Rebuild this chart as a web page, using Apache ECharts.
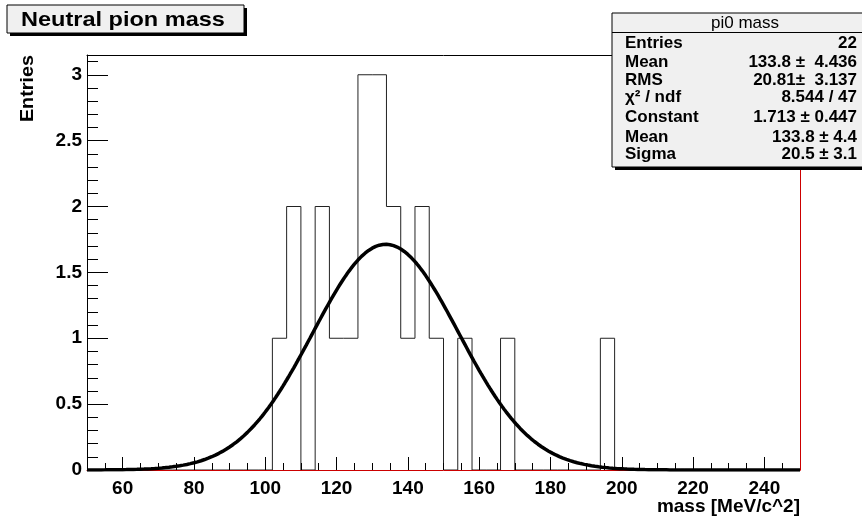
<!DOCTYPE html>
<html>
<head>
<meta charset="utf-8">
<script src="https://cdn.jsdelivr.net/npm/echarts@6/dist/echarts.min.js"></script>
<style>
  html, body { margin: 0; padding: 0; background: #ffffff; }
  #chart { width: 862px; height: 520px; }
</style>
</head>
<body>
<div id="chart"></div>
<script>
// Histogram of reconstructed neutral pion mass: 50 bins of 4 MeV/c^2 from 50 to 250
const binLow = 50;
const binWidth = 4;
const binCounts = [
  0, 0, 0, 0, 0, 0, 0, 0, 0, 0, 0, 0, 0,
  1, 2, 0, 2, 1, 1, 3, 3, 2, 1, 2, 1, 0, 1, 0, 0, 1, 0, 0, 0, 0, 0, 0, 1,
  0, 0, 0, 0, 0, 0, 0, 0, 0, 0, 0, 0, 0
];

// Gaussian fit parameters
const fitConstant = 1.713;
const fitMean = 133.8;
const fitSigma = 20.5;

// Axis ticks
const xMajorTicks = [60, 80, 100, 120, 140, 160, 180, 200, 220, 240];
const yMajorTicks = [0, 0.5, 1, 1.5, 2, 2.5, 3];
const xMinorStep = 5;
const yMinorStep = 0.1;

// Statistics box rows
const statsTitle = 'pi0 mass';
const statsNames = ['Entries', 'Mean', 'RMS', 'χ² / ndf', 'Constant', 'Mean', 'Sigma'];
const statsValues = ['22', '133.8 ±  4.436', '20.81±  3.137', '8.544 / 47', '1.713 ± 0.447', '133.8 ± 4.4', '20.5 ± 3.1'];

const xMin = 50, xMax = 250, yMin = 0, yMax = 3.15;

const xMinorTicks = [];
for (let v = xMin + xMinorStep; v < xMax; v += xMinorStep) xMinorTicks.push(v);
const yMinorTicks = [];
for (let k = 1; k * yMinorStep < yMax; k++) yMinorTicks.push(Math.round(k * yMinorStep * 10) / 10);

// Step outline of the histogram
const histPoints = binCounts.map((c, i) => [binLow + i * binWidth, c]);
histPoints.push([binLow + binCounts.length * binWidth, binCounts[binCounts.length - 1]]);

// Fitted Gaussian sampled over the axis range
const fitPoints = [];
for (let x = xMin; x <= xMax; x += 0.5) {
  const d = (x - fitMean) / fitSigma;
  fitPoints.push([x, fitConstant * Math.exp(-0.5 * d * d)]);
}

const FONT = '"Liberation Sans", Arial, Helvetica, sans-serif';

const chart = echarts.init(document.getElementById('chart'), null, { renderer: 'canvas' });

const gridPos = { left: 87, right: 62, top: 55, bottom: 50 };

const statsElements = [];
const sbX = 612, sbY = 13, sbW = 266, sbH = 154;
statsElements.push({ type: 'rect', z: 100, shape: { x: sbX + 3, y: sbY + 3, width: sbW, height: sbH }, style: { fill: '#000' } });
statsElements.push({ type: 'rect', z: 101, shape: { x: sbX, y: sbY, width: sbW, height: sbH }, style: { fill: '#f0f0f0', stroke: '#000', lineWidth: 1 } });
statsElements.push({ type: 'line', z: 102, shape: { x1: sbX, y1: 32.5, x2: sbX + sbW, y2: 32.5 }, style: { stroke: '#000', lineWidth: 1 } });
statsElements.push({ type: 'text', z: 103, x: 745, y: 23, style: { text: statsTitle, font: '17px ' + FONT, fill: '#000', align: 'center', verticalAlign: 'middle' } });
const rowY = [43, 62, 80, 97, 117, 137, 154];
statsNames.forEach((n, i) => {
  statsElements.push({ type: 'text', z: 103, x: 625, y: rowY[i], style: { text: n, font: 'bold 17px ' + FONT, fill: '#000', align: 'left', verticalAlign: 'middle' } });
  statsElements.push({ type: 'text', z: 103, x: 857, y: rowY[i], style: { text: statsValues[i], font: 'bold 17px ' + FONT, fill: '#000', align: 'right', verticalAlign: 'middle' } });
});

const option = {
  backgroundColor: '#ffffff',
  animation: false,
  grid: gridPos,
  xAxis: [
    {
      type: 'value', min: xMin, max: xMax, position: 'bottom', z: 5,
      axisLine: { show: true, onZero: false, lineStyle: { color: '#cc0000', width: 1 } },
      axisTick: { show: true, inside: true, length: 13, customValues: xMajorTicks, lineStyle: { color: '#000', width: 1 } },
      axisLabel: { show: true, customValues: xMajorTicks, margin: 9, color: '#000', fontFamily: FONT, fontWeight: 'bold', fontSize: 19 },
      splitLine: { show: false }
    },
    {
      type: 'value', min: xMin, max: xMax, position: 'bottom', z: 4,
      axisLine: { show: false, onZero: false },
      axisTick: { show: true, inside: true, length: 7, customValues: xMinorTicks, lineStyle: { color: '#000', width: 1 } },
      axisLabel: { show: false },
      splitLine: { show: false }
    },
    {
      type: 'value', min: xMin, max: xMax, position: 'top', z: 5,
      axisLine: { show: true, onZero: false, lineStyle: { color: '#000', width: 1 } },
      axisTick: { show: false }, axisLabel: { show: false }, splitLine: { show: false }
    }
  ],
  yAxis: [
    {
      type: 'value', min: yMin, max: yMax, position: 'left', z: 5,
      axisLine: { show: true, onZero: false, lineStyle: { color: '#000', width: 1 } },
      axisTick: { show: true, inside: true, length: 21, customValues: yMajorTicks, lineStyle: { color: '#000', width: 1 } },
      axisLabel: { show: true, customValues: yMajorTicks, margin: 5, color: '#000', fontFamily: FONT, fontWeight: 'bold', fontSize: 19 },
      splitLine: { show: false }
    },
    {
      type: 'value', min: yMin, max: yMax, position: 'left', z: 4,
      axisLine: { show: false, onZero: false },
      axisTick: { show: true, inside: true, length: 11, customValues: yMinorTicks, lineStyle: { color: '#000', width: 1 } },
      axisLabel: { show: false },
      splitLine: { show: false }
    },
    {
      type: 'value', min: yMin, max: yMax, position: 'right', z: 5,
      axisLine: { show: true, onZero: false, lineStyle: { color: '#cc0000', width: 1 } },
      axisTick: { show: false }, axisLabel: { show: false }, splitLine: { show: false }
    }
  ],
  series: [
    {
      name: 'pi0 mass', type: 'line', step: 'end', data: histPoints,
      xAxisIndex: 0, yAxisIndex: 0, z: 1,
      showSymbol: false, symbol: 'none',
      lineStyle: { color: '#222', width: 1 }
    },
    {
      name: 'gaus', type: 'line', data: fitPoints,
      xAxisIndex: 0, yAxisIndex: 0, z: 10,
      showSymbol: false, symbol: 'none', smooth: false,
      lineStyle: { color: '#000', width: 3.5 }
    }
  ],
  graphic: [
    // title box with shadow
    { type: 'rect', z: 100, shape: { x: 10, y: 8, width: 237, height: 28 }, style: { fill: '#000' } },
    { type: 'rect', z: 101, shape: { x: 7, y: 5, width: 237, height: 28 }, style: { fill: '#f0f0f0', stroke: '#000', lineWidth: 1 } },
    { type: 'text', z: 102, x: 21, y: 20, scaleX: 1.12, style: { text: 'Neutral pion mass', font: 'bold 21px ' + FONT, fill: '#000', align: 'left', verticalAlign: 'middle' } },
    // axis titles
    { type: 'text', z: 50, x: 800, y: 507, style: { text: 'mass [MeV/c^2]', font: 'bold 19px ' + FONT, fill: '#000', align: 'right', verticalAlign: 'middle' } },
    { type: 'text', z: 50, x: 28, y: 55, rotation: Math.PI / 2, scaleX: 1.1, style: { text: 'Entries', font: 'bold 18px ' + FONT, fill: '#000', align: 'right', verticalAlign: 'middle' } }
  ].concat(statsElements)
};

chart.setOption(option);
</script>
</body>
</html>
